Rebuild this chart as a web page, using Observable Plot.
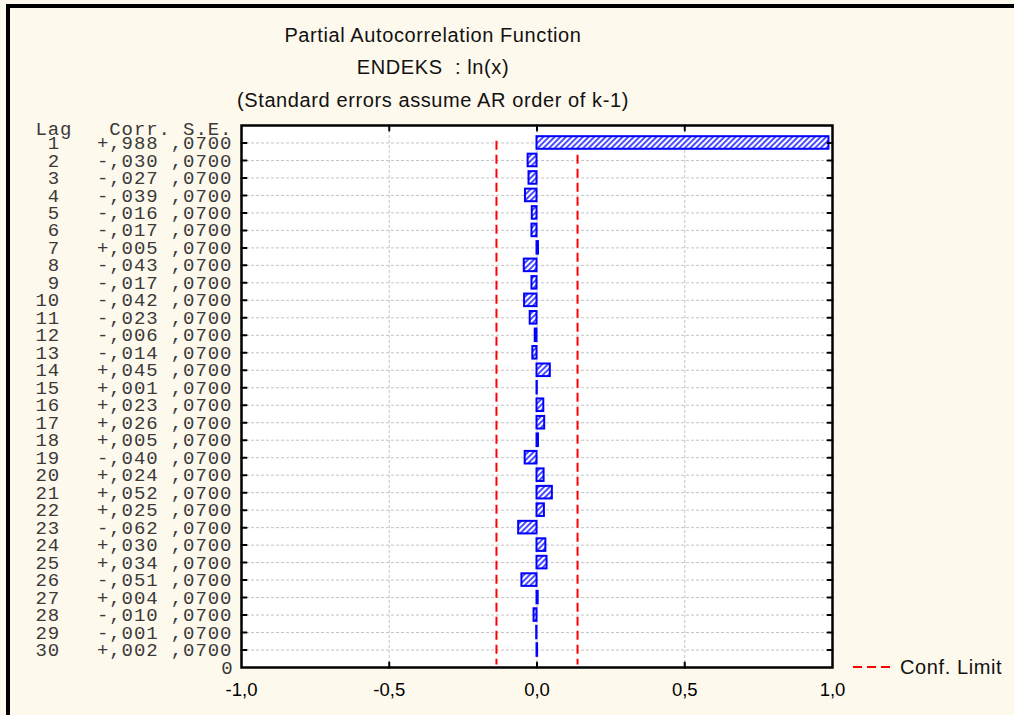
<!DOCTYPE html>
<html><head><meta charset="utf-8">
<script src="https://cdn.jsdelivr.net/npm/d3@7"></script>
<script src="https://cdn.jsdelivr.net/npm/@observablehq/plot@0.6"></script>
<style>
html,body{margin:0;padding:0;background:#fef9ed;width:1014px;height:715px;overflow:hidden;}
#wrap{position:relative;width:1014px;height:715px;}
#border{position:absolute;left:6px;top:4px;right:0;bottom:0;border-top:4px solid #000;border-left:4px solid #000;pointer-events:none;}
#chart{position:absolute;left:0;top:0;}
.monotxt text{letter-spacing:0.9px;}
</style></head><body>
<div id="wrap"><div id="chart"></div><div id="border"></div></div>
<script>
const titleLines = ["Partial Autocorrelation Function", "ENDEKS  : ln(x)", "(Standard errors assume AR order of k-1)"];
const lags = [1,2,3,4,5,6,7,8,9,10,11,12,13,14,15,16,17,18,19,20,21,22,23,24,25,26,27,28,29,30];
const corrs = [0.988,-0.030,-0.027,-0.039,-0.016,-0.017,0.005,-0.043,-0.017,-0.042,-0.023,-0.006,-0.014,0.045,0.001,0.023,0.026,0.005,-0.040,0.024,0.052,0.025,-0.062,0.030,0.034,-0.051,0.004,-0.010,-0.001,0.002];
const ses = [0.07,0.07,0.07,0.07,0.07,0.07,0.07,0.07,0.07,0.07,0.07,0.07,0.07,0.07,0.07,0.07,0.07,0.07,0.07,0.07,0.07,0.07,0.07,0.07,0.07,0.07,0.07,0.07,0.07,0.07];
const xTicks = [-1, -0.5, 0, 0.5, 1];
const gridX = [-0.5, 0, 0.5];
const confLimits = [-0.1372, 0.1372];
const confSpan = [0.9, 30.85];
const headerLabel = "Lag   Corr. S.E.";
const bottomLabel = "0";
const legendLabel = "Conf. Limit";

const NB = "\u00a0";
const rows = lags.map((lag, i) => ({lag, corr: corrs[i], se: ses[i]}));
const fmtCorr = v => (v < 0 ? "-" : "+") + "," + String(Math.round(Math.abs(v) * 1000)).padStart(3, "0");
const fmtSe = v => "," + String(Math.round(v * 10000)).padStart(4, "0");
const rowLabel = d => (String(d.lag).padStart(2, " ") + "   " + fmtCorr(d.corr) + " " + fmtSe(d.se)).replace(/ /g, NB);
const fmtX = v => v.toFixed(1).replace(".", ",");

const mono = "Liberation Mono, Courier New, monospace";
const sans = "Liberation Sans, Arial, sans-serif";
const tickShape = {draw(ctx, l) { ctx.moveTo(0, 0); ctx.lineTo(0, -l); }};
const tickOpts = {length: 5, anchor: "start", shape: tickShape, stroke: "black", strokeWidth: 2};
const monoOpts = {frameAnchor: "left", fontFamily: mono, fontSize: 19, fill: "#3a3a3a", className: "monotxt"};

const plot = Plot.plot({
  width: 1014, height: 715,
  marginLeft: 241, marginRight: 182, marginTop: 125, marginBottom: 48,
  style: {background: "transparent", fontFamily: sans, fontSize: "18.5px", color: "#000", overflow: "visible"},
  x: {domain: [-1, 1]},
  y: {domain: [0, 31], reverse: true, axis: null},
  marks: [
    Plot.frame({fill: "white", stroke: null}),
    Plot.ruleY(lags, {stroke: "#c4c4c4", strokeDasharray: "3,2", strokeWidth: 1}),
    Plot.ruleX(gridX, {stroke: "#c4c4c4", strokeDasharray: "3,2", strokeWidth: 1}),
    Plot.ruleX(confLimits, {y1: confSpan[0], y2: confSpan[1], stroke: "#ff0000", strokeWidth: 2, strokeDasharray: "9,5"}),
    Plot.rect(rows, {x1: () => 0, x2: "corr", y1: d => d.lag - 0.36, y2: d => d.lag + 0.36, fill: "url(#hatch)", stroke: "#0000ff", strokeWidth: 2}),
    Plot.vector(lags, {y: d => d, frameAnchor: "left", rotate: 90, ...tickOpts}),
    Plot.vector(lags, {y: d => d, frameAnchor: "right", rotate: -90, ...tickOpts}),
    Plot.vector(gridX, {x: d => d, frameAnchor: "top", rotate: 180, ...tickOpts}),
    Plot.vector(gridX, {x: d => d, frameAnchor: "bottom", rotate: 0, ...tickOpts}),
    Plot.frame({stroke: "black", strokeWidth: 2.5}),
    Plot.axisX(xTicks, {anchor: "bottom", tickSize: 0, tickPadding: 15, tickFormat: fmtX, label: null, fontSize: 18.5}),
    Plot.text(rows, {y: "lag", text: rowLabel, textAnchor: "start", dx: -206, ...monoOpts}),
    Plot.text([headerLabel.replace(/ /g, NB)], {y: () => 0, text: d => d, textAnchor: "start", dx: -206, dy: 3, ...monoOpts}),
    Plot.text([bottomLabel], {y: () => 31, text: d => d, textAnchor: "end", dx: -8, ...monoOpts})
  ]
});

const svg = d3.select(plot);
const defs = svg.insert("defs", ":first-child");
const pat = defs.append("pattern").attr("id", "hatch").attr("patternUnits", "userSpaceOnUse")
  .attr("width", 4).attr("height", 4).attr("patternTransform", "rotate(45)");
pat.append("rect").attr("width", 4).attr("height", 4).attr("fill", "white");
pat.append("line").attr("x1", 1).attr("y1", 0).attr("x2", 1).attr("y2", 4).attr("stroke", "#0000ff").attr("stroke-width", 1.4);

const tg = svg.append("g").attr("font-family", sans).attr("font-size", 20).attr("fill", "#111")
  .attr("text-anchor", "middle").attr("letter-spacing", "0.6px");
[42, 74, 107].forEach((yy, i) => tg.append("text").attr("x", 433).attr("y", yy).text(titleLines[i]));

const lg = svg.append("g");
lg.append("line").attr("x1", 853).attr("x2", 890).attr("y1", 667).attr("y2", 667)
  .attr("stroke", "#ff0000").attr("stroke-width", 2).attr("stroke-dasharray", "9,5");
lg.append("text").attr("x", 900).attr("y", 674).attr("text-anchor", "start").attr("font-family", sans)
  .attr("font-size", 20).attr("letter-spacing", "0.6px").attr("fill", "#111").text(legendLabel);

document.getElementById("chart").appendChild(plot);
</script>
</body></html>
